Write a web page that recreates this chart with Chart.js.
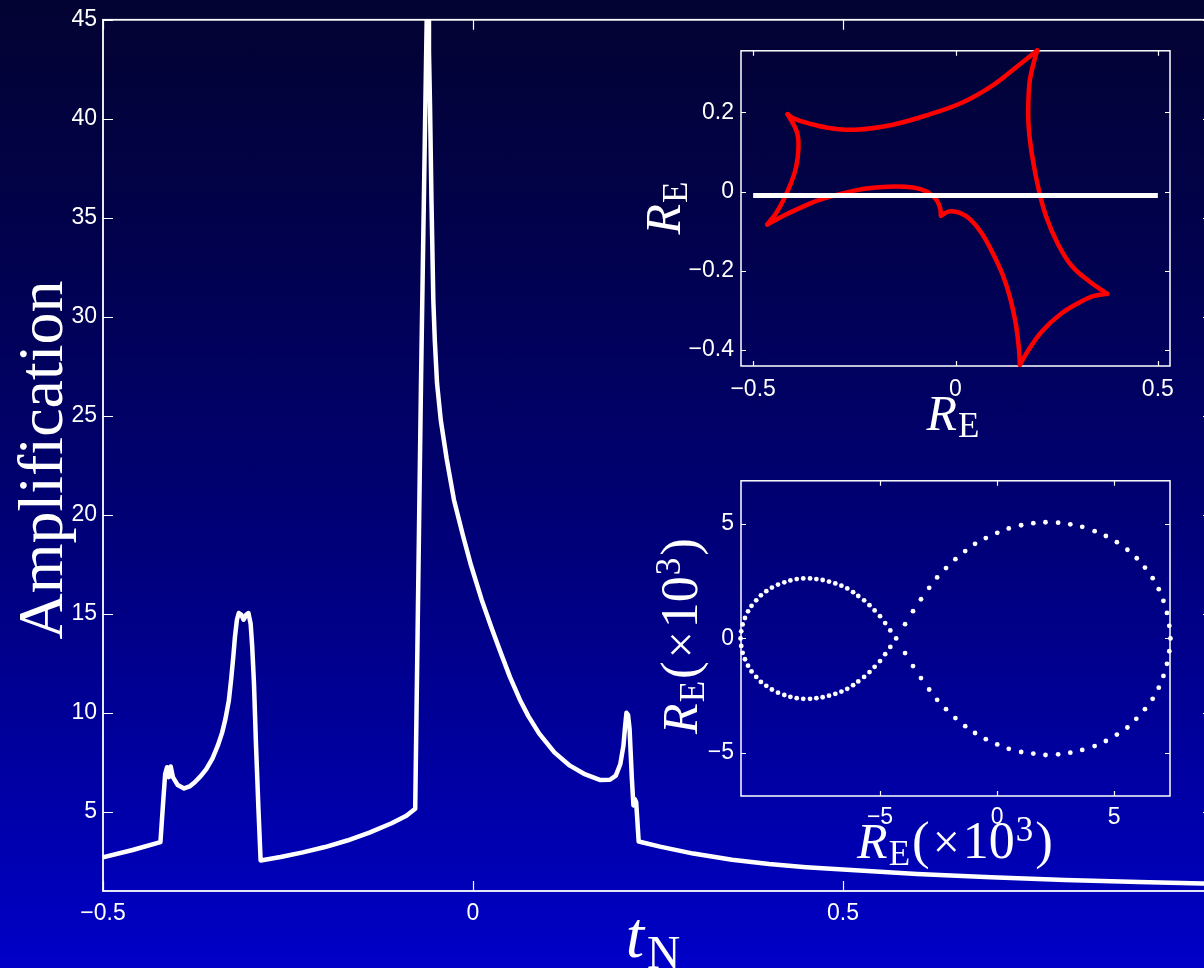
<!DOCTYPE html>
<html>
<head>
<meta charset="utf-8">
<script src="https://cdn.jsdelivr.net/npm/chart.js@4.4.1/dist/chart.umd.min.js"></script>
<style>
  html, body { margin: 0; padding: 0; }
  body {
    width: 1204px; height: 968px; overflow: hidden; position: relative;
    background: linear-gradient(to bottom, #030332 0%, #01014d 25%, #00006f 50%, #000099 75%, #0000c8 100%);
  }
  canvas { position: absolute; }
  #main { left: 0; top: 0; }
  #caustic { left: 630px; top: 30px; }
  #source { left: 630px; top: 460px; }
</style>
</head>
<body>
<canvas id="main" width="1230" height="968"></canvas>
<canvas id="caustic" width="574" height="430"></canvas>
<canvas id="source" width="574" height="440"></canvas>
<script>
// light curve: time t_N and amplification
const mainT = [-0.5, -0.46, -0.4224, -0.4185, -0.4160, -0.4135, -0.4110, -0.4085, -0.4055, -0.3990,
  -0.3904, -0.3830, -0.3760, -0.3680, -0.3604, -0.3520, -0.3449, -0.3390, -0.3346, -0.3300,
  -0.3268, -0.3240, -0.3216, -0.3190, -0.3165, -0.3130, -0.3100, -0.3065, -0.3035, -0.3005,
  -0.2984, -0.2960, -0.2932, -0.2900, -0.2870, -0.26, -0.23, -0.20, -0.17, -0.14,
  -0.11, -0.09, -0.0781, -0.0703, -0.0626, -0.0607, -0.0595, -0.0581, -0.0561, -0.0536,
  -0.0516, -0.0486, -0.0435, -0.0355, -0.0257, -0.0135, -0.0027, 0.0118, 0.025, 0.0378,
  0.05, 0.0635, 0.075, 0.0895, 0.11, 0.131, 0.15, 0.1723, 0.185, 0.193,
  0.199, 0.2033, 0.2055, 0.2074, 0.2095, 0.2116, 0.2147, 0.2168, 0.2185, 0.2205,
  0.2239, 0.2527, 0.2977, 0.35, 0.40, 0.45, 0.50, 0.60, 0.70, 0.80,
  0.90, 1.0];
const mainA = [2.70, 3.07, 3.47, 5.6, 6.9, 7.25, 6.75, 7.29, 6.75, 6.35,
  6.18, 6.28, 6.49, 6.80, 7.16, 7.70, 8.34, 9.0, 9.68, 10.6,
  11.69, 12.8, 13.87, 14.7, 15.04, 14.95, 14.7, 14.95, 15.04, 14.5,
  13.36, 11.5, 8.34, 5.2, 2.54, 2.72, 2.95, 3.22, 3.55, 3.95,
  4.42, 4.80, 5.15, 26.6, 44.95, 47, 43.4, 40.72, 35.84, 30.81,
  28.80, 26.64, 24.77, 22.81, 20.75, 18.94, 17.45, 15.7, 14.3, 13.0,
  11.8, 10.65, 9.82, 8.95, 8.0, 7.33, 6.92, 6.6, 6.62, 6.83,
  7.4, 8.34, 9.3, 10.0, 9.9, 9.18, 6.66, 5.32, 5.65, 5.5,
  3.50, 3.24, 2.89, 2.58, 2.36, 2.20, 2.08, 1.86, 1.69, 1.56,
  1.46, 1.37];
const mainXTicks = [-0.5, 0, 0.5, 1];
const mainYTicks = [5, 10, 15, 20, 25, 30, 35, 40, 45];

// caustic, split at the cusps
const causticArcs = [
  [[0.202, 0.356], [0.153, 0.316], [0.091, 0.267], [0.020, 0.226], [-0.069, 0.193], [-0.158, 0.168],
   [-0.247, 0.156], [-0.310, 0.160], [-0.363, 0.172], [-0.399, 0.184], [-0.415, 0.195]],
  [[-0.415, 0.195], [-0.392, 0.151], [-0.388, 0.110], [-0.394, 0.061], [-0.407, 0.020], [-0.425, -0.021],
   [-0.443, -0.054], [-0.465, -0.083]],
  [[-0.465, -0.083], [-0.425, -0.061], [-0.381, -0.040], [-0.336, -0.021], [-0.247, 0.003], [-0.167, 0.012],
   [-0.105, 0.010], [-0.069, -0.001], [-0.047, -0.021], [-0.038, -0.042], [-0.036, -0.061]],
  [[-0.036, -0.061], [-0.016, -0.050], [0.011, -0.054], [0.037, -0.071], [0.064, -0.104], [0.091, -0.153],
   [0.117, -0.211], [0.135, -0.268], [0.149, -0.334], [0.157, -0.400], [0.159, -0.437]],
  [[0.159, -0.437], [0.180, -0.400], [0.215, -0.351], [0.260, -0.309], [0.304, -0.281], [0.340, -0.264],
   [0.375, -0.258]],
  [[0.375, -0.258], [0.331, -0.227], [0.286, -0.186], [0.251, -0.128], [0.224, -0.063], [0.206, 0.003],
   [0.190, 0.086], [0.181, 0.160], [0.180, 0.226], [0.184, 0.283], [0.193, 0.324], [0.202, 0.356]]
];
const trackX = [-0.5, 0.5];
const trackY = [-0.01, -0.01];
const causticXTicks = [-0.5, 0, 0.5];
const causticYTicks = [-0.4, -0.2, 0, 0.2];

// source images (x10^3)
const leftLoop = [[-10.96, -0.01], [-10.93, 0.30], [-10.87, 0.60], [-10.77, 0.88], [-10.64, 1.17], [-10.49, 1.41],
  [-10.29, 1.65], [-10.09, 1.87], [-9.86, 2.05], [-9.62, 2.21], [-9.36, 2.34], [-9.09, 2.44], [-8.83, 2.52],
  [-8.56, 2.58], [-8.28, 2.61], [-7.99, 2.61], [-7.72, 2.58], [-7.45, 2.54], [-7.18, 2.47], [-6.91, 2.39],
  [-6.65, 2.29], [-6.40, 2.17], [-6.15, 2.01], [-5.93, 1.84], [-5.68, 1.65], [-5.45, 1.44], [-5.23, 1.21],
  [-5.00, 0.96], [-4.78, 0.66], [-4.56, 0.34], [-4.31, -0.01], [-4.56, -0.38], [-4.78, -0.70], [-5.00, -1.00],
  [-5.23, -1.25], [-5.45, -1.48], [-5.68, -1.69], [-5.93, -1.89], [-6.15, -2.05], [-6.40, -2.21], [-6.65, -2.33],
  [-6.91, -2.43], [-7.18, -2.51], [-7.45, -2.58], [-7.72, -2.62], [-7.99, -2.65], [-8.28, -2.65], [-8.56, -2.62],
  [-8.83, -2.56], [-9.09, -2.48], [-9.36, -2.38], [-9.62, -2.24], [-9.86, -2.08], [-10.09, -1.91], [-10.29, -1.69],
  [-10.49, -1.45], [-10.64, -1.20], [-10.77, -0.92], [-10.87, -0.64], [-10.93, -0.34]];
const rightLoop = [[-3.93, 0.61], [-3.59, 1.18], [-3.25, 1.70], [-2.90, 2.20], [-2.56, 2.65], [-2.18, 3.06],
  [-1.78, 3.45], [-1.36, 3.80], [-0.94, 4.12], [-0.48, 4.37], [0.01, 4.60], [0.50, 4.79], [1.03, 4.93],
  [1.55, 5.02], [2.07, 5.06], [2.61, 5.04], [3.13, 4.97], [3.64, 4.86], [4.17, 4.67], [4.65, 4.46],
  [5.12, 4.19], [5.57, 3.86], [5.97, 3.49], [6.32, 3.08], [6.65, 2.62], [6.91, 2.14], [7.11, 1.63],
  [7.26, 1.10], [7.36, 0.54], [7.41, -0.01], [7.36, -0.57], [7.26, -1.12], [7.11, -1.65], [6.91, -2.16],
  [6.65, -2.65], [6.32, -3.10], [5.95, -3.52], [5.57, -3.90], [5.12, -4.21], [4.65, -4.49], [4.17, -4.71],
  [3.64, -4.88], [3.13, -5.00], [2.61, -5.07], [2.07, -5.10], [1.55, -5.04], [1.03, -4.97], [0.50, -4.83],
  [0.01, -4.64], [-0.48, -4.41], [-0.94, -4.14], [-1.36, -3.84], [-1.78, -3.49], [-2.18, -3.10], [-2.56, -2.69],
  [-2.90, -2.24], [-3.25, -1.74], [-3.59, -1.22], [-3.93, -0.65]];
const sourceXTicks = [-5, 0, 5];
const sourceYTicks = [-5, 0, 5];

const SERIF = '"Liberation Serif", "DejaVu Serif", serif';
const SANS = '"Liberation Sans", Arial, sans-serif';

function fmt(v) {
  return String(v).replace('-', '\u2212');
}

function pairs(list) {
  return list.map((p) => ({ x: p[0], y: p[1] }));
}

function drawMath(ctx, lab) {
  ctx.save();
  ctx.translate(lab.x, lab.y);
  if (lab.rot) ctx.rotate(-Math.PI / 2);
  ctx.fillStyle = '#fff';
  ctx.textAlign = 'left';
  ctx.textBaseline = 'alphabetic';
  let total = 0;
  const widths = lab.parts.map((p) => {
    ctx.font = p.font;
    const w = ctx.measureText(p.text).width + (p.sp || 0);
    total += w;
    return w;
  });
  let cx = -total / 2;
  lab.parts.forEach((p, i) => {
    ctx.font = p.font;
    ctx.fillText(p.text, cx, p.dy || 0);
    cx += widths[i];
  });
  ctx.restore();
}

// box with inward ticks on all four sides, plus axis titles
const framePlugin = {
  id: 'frame',
  beforeDatasetsDraw(chart, args, opts) {
    const { ctx, chartArea: a, scales } = chart;
    ctx.save();
    ctx.strokeStyle = '#fff';
    ctx.lineWidth = opts.lineWidth;
    ctx.strokeRect(a.left, a.top, a.right - a.left, a.bottom - a.top);
    const L = opts.tick;
    ctx.beginPath();
    scales.x.ticks.forEach((t) => {
      const px = Math.round(scales.x.getPixelForValue(t.value)) + 0.5;
      ctx.moveTo(px, a.bottom); ctx.lineTo(px, a.bottom - L);
      ctx.moveTo(px, a.top); ctx.lineTo(px, a.top + L);
    });
    scales.y.ticks.forEach((t) => {
      const py = Math.round(scales.y.getPixelForValue(t.value)) + 0.5;
      ctx.moveTo(a.left, py); ctx.lineTo(a.left + L, py);
      ctx.moveTo(a.right, py); ctx.lineTo(a.right - L, py);
    });
    ctx.lineWidth = 1.2;
    ctx.stroke();
    ctx.restore();
  },
  afterDraw(chart, args, opts) {
    (opts.labels || []).forEach((lab) => drawMath(chart.ctx, lab));
  },
};

function axis(min, max, tickVals, isX, size, pad) {
  return {
    type: 'linear',
    min,
    max,
    afterBuildTicks: (s) => { s.ticks = tickVals.map((v) => ({ value: v })); },
    afterFit: (s) => { if (isX) s.height = size; else s.width = size; },
    grid: { display: false, drawTicks: false },
    border: { display: false },
    ticks: {
      color: '#fff',
      font: { family: SANS, size: 23 },
      autoSkip: false,
      maxRotation: 0,
      padding: pad,
      callback: fmt,
    },
  };
}

const base = {
  responsive: false,
  animation: false,
  devicePixelRatio: 1,
  events: [],
  plugins: { legend: { display: false }, tooltip: { enabled: false } },
};

new Chart(document.getElementById('main'), {
  type: 'scatter',
  data: {
    datasets: [{
      data: mainT.map((t, i) => ({ x: t, y: mainA[i] })),
      showLine: true,
      borderColor: '#fff',
      borderWidth: 4.5,
      pointRadius: 0,
      tension: 0,
      borderJoinStyle: 'round',
    }],
  },
  options: {
    ...base,
    layout: { padding: { left: 0, top: 18, right: 17, bottom: 0 } },
    scales: {
      x: axis(-0.5, 1, mainXTicks, true, 77, 9),
      y: axis(1, 45, mainYTicks, false, 103, 6),
    },
    plugins: {
      ...base.plugins,
      frame: {
        lineWidth: 1.8,
        tick: 10,
        labels: [
          { parts: [{ text: 'Amplification', font: '64px ' + SERIF }], x: 62, y: 460, rot: true },
          { parts: [{ text: 't', font: 'italic 66px ' + SERIF, sp: 3 }, { text: 'N', font: '46px ' + SERIF, dy: 11 }], x: 653, y: 957 },
        ],
      },
    },
  },
  plugins: [framePlugin],
});

const reLabel = (x, y, rot) => ({
  parts: [{ text: 'R', font: 'italic 50px ' + SERIF, sp: 1 }, { text: 'E', font: '35px ' + SERIF, dy: 7 }],
  x, y, rot,
});
const reScaledLabel = (x, y, rot) => ({
  parts: [
    { text: 'R', font: 'italic 50px ' + SERIF, sp: 1 },
    { text: 'E', font: '35px ' + SERIF, dy: 7, sp: 2 },
    { text: '(', font: '53px ' + SERIF, sp: 3 },
    { text: '\u00d7', font: '48px ' + SERIF, sp: 3 },
    { text: '10', font: '52px ' + SERIF, sp: 1 },
    { text: '3', font: '35px ' + SERIF, dy: -17, sp: 2 },
    { text: ')', font: '53px ' + SERIF },
  ],
  x, y, rot,
});

new Chart(document.getElementById('caustic'), {
  type: 'scatter',
  data: {
    datasets: [{
      data: trackX.map((x, i) => ({ x, y: trackY[i] })),
      showLine: true,
      borderColor: '#fff',
      borderWidth: 5,
      pointRadius: 0,
    }].concat(causticArcs.map((arc) => ({
      data: pairs(arc),
      showLine: true,
      borderColor: '#ff0000',
      borderWidth: 4.5,
      pointRadius: 0,
      tension: 0.4,
      borderCapStyle: 'round',
      clip: false,
    }))),
  },
  options: {
    ...base,
    layout: { padding: { left: 0, top: 15, right: 34, bottom: 0 } },
    scales: {
      x: axis(-0.53, 0.53, causticXTicks, true, 94, 10),
      y: axis(-0.44, 0.355, causticYTicks, false, 111, 7),
    },
    plugins: {
      ...base.plugins,
      frame: {
        lineWidth: 1.5,
        tick: 5,
        labels: [reLabel(50, 178, true), reLabel(323, 400, false)],
      },
    },
  },
  plugins: [framePlugin],
});

new Chart(document.getElementById('source'), {
  type: 'scatter',
  data: {
    datasets: [leftLoop, rightLoop].map((loop) => ({
      data: pairs(loop),
      pointRadius: 2.4,
      pointBackgroundColor: '#fff',
      pointBorderWidth: 0,
      clip: false,
    })),
  },
  options: {
    ...base,
    layout: { padding: { left: 0, top: 14, right: 34, bottom: 0 } },
    scales: {
      x: axis(-10.94, 7.39, sourceXTicks, true, 104, 8),
      y: axis(-6.89, 6.87, sourceYTicks, false, 111, 7),
    },
    plugins: {
      ...base.plugins,
      frame: {
        lineWidth: 1.5,
        tick: 5,
        labels: [reScaledLabel(67, 176, true), reScaledLabel(325, 398, false)],
      },
    },
  },
  plugins: [framePlugin],
});
</script>
</body>
</html>
